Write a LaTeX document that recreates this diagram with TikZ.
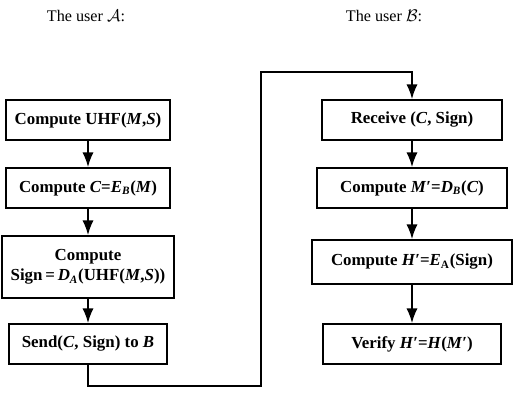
\documentclass[tikz,border=0pt]{standalone}
\usepackage{fontspec}
\setmainfont{Liberation Serif}
\usetikzlibrary{positioning}
\usetikzlibrary{arrows.meta}

\newcommand{\bi}[1]{\textbf{\textit{#1}}}

\begin{document}
\begin{tikzpicture}[x=0.25mm,y=-0.25mm,
  procbox/.style={draw,line width=1.3pt,align=center,inner sep=2pt,
    font=\bfseries\fontsize{12}{14}\selectfont},
  flow/.style={line width=1.2pt,-{Latex[length=10.5pt,width=8pt]}}]
\useasboundingbox (0,0) rectangle (513,398);
\node[font=\fontsize{11.5}{13}\selectfont](tA)at(86,16){The user $\mathcal{A}$:};
\node[font=\fontsize{11.5}{13}\selectfont](tB)at(384,16){The user $\mathcal{B}$:};
% sender side
\node[procbox,minimum width=41mm,minimum height=10mm](c1)at(88,120){Compute UHF(\bi{M},\bi{S})};
\node[procbox,minimum width=41mm,minimum height=10mm](c2)at(88,188){Compute \bi{C}=\bi{E}\textsubscript{\bi{B}}(\bi{M})};
\node[procbox,minimum width=43mm,minimum height=15.5mm](c3)at(88,267)
{Compute\\Sign\,=\,\bi{D}\textsubscript{\bi{A}}(UHF(\bi{M},\bi{S}))};
\node[procbox,minimum width=39.5mm,minimum height=10mm](c4)at(88,344){Send(\bi{C}, Sign) to \bi{B}};
% receiver side
\node[procbox,minimum width=45mm,minimum height=10mm](r1)at(412,120){Receive (\bi{C}, Sign)};
\node[procbox,minimum width=47.5mm,minimum height=10mm](r2)at(412,188){Compute \bi{M}′=\bi{D}\textsubscript{\bi{B}}(\bi{C})};
\node[procbox,minimum width=50mm,minimum height=11mm](r3)at(412,262){Compute \bi{H}′=\bi{E}\textsubscript{A}(Sign)};
\node[procbox,minimum width=44.5mm,minimum height=10mm](r4)at(412,344){Verify \bi{H}′=\bi{H}(\bi{M}′)};

\draw[flow](c1)--(c2);
\draw[flow](c2)--(c3);
\draw[flow](c3)--(c4);
\draw[flow](r1)--(r2);
\draw[flow](r2)--(r3);
\draw[flow](r3)--(r4);
%% message path
\coordinate(low)at(261,386);
\coordinate(high)at(261,72);
\draw[flow](c4.south)|-(low)--(high)-|(r1.north);
\end{tikzpicture}
\end{document}
